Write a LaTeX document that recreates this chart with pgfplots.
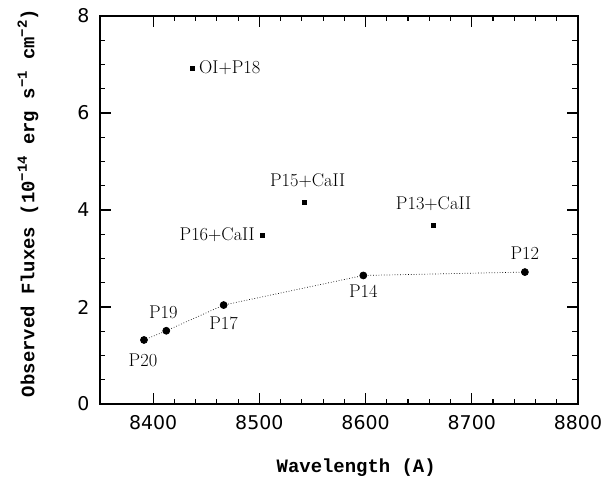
\documentclass[border=0pt]{standalone}
\usepackage{fontspec}
\usepackage{pgfplots}
\pgfplotsset{compat=1.18}
\newfontfamily\tickfont{DejaVu Sans}
\newfontfamily\labfont{Liberation Mono}
\newcommand{\sups}[1]{\raisebox{0.75ex}{\fontsize{14}{14}\selectfont #1}}
\begin{document}
\begin{tikzpicture}
\begin{axis}[
  at={(0,0)}, anchor=south west,
  scale only axis, width=478bp, height=388bp,
  xmin=8350, xmax=8800, ymin=0, ymax=8,
  xtick={8400,8500,...,8800}, ytick={0,2,...,8},
  minor x tick num=4, minor y tick num=3,
  major tick length=11bp, minor tick length=5.5bp,
  tick align=inside,
  xtick pos=both, ytick pos=both,
  axis line style={line width=1.2bp},
  every tick/.style={line width=1.1bp, black},
  every minor tick/.style={line width=1.1bp, black},
  /pgf/number format/assume math mode=true,
  /pgf/number format/1000 sep={},
  ticklabel style={font=\tickfont\fontsize{19}{20}\selectfont},
  xticklabel style={yshift=-8bp},
  yticklabel style={xshift=-7bp},
  xlabel={\labfont\bfseries\fontsize{19}{20}\selectfont Wavelength (A)},
  ylabel={\labfont\bfseries\fontsize{19}{20}\selectfont Observed Fluxes (10\sups{−14} erg s\sups{−1} cm\sups{−2})},
  xlabel style={at={(axis description cs:0.536,0)}, anchor=center, yshift=-64bp},
  ylabel style={at={(axis description cs:-0.1506,0.518)}, anchor=center},
  clip=false,
]
\addplot[black, line width=0.7bp, dotted, mark=*, mark size=3.5bp, mark options={solid, fill=black}] coordinates {
 (8391.4,1.32) (8412.4,1.51) (8466.4,2.04) (8597.9,2.65) (8750,2.72)
};
\addplot[only marks, black, mark=square*, mark size=2bp] coordinates {
 (8436.6,6.93) (8502.5,3.49) (8542.7,4.17) (8664,3.69)
};
\begin{scope}[every node/.style={font=\fontsize{18.5}{19}\selectfont, inner sep=0pt}]
\node[anchor=west, xshift=7bp] at (axis cs:8436.6,6.93) {OI+P18};
\node[anchor=east, xshift=-7bp] at (axis cs:8502.5,3.49) {P16+CaII};
\node[xshift=3bp, yshift=21bp] at (axis cs:8542.7,4.17) {P15+CaII};
\node[yshift=21bp] at (axis cs:8664,3.69) {P13+CaII};
\node[yshift=19bp] at (axis cs:8750,2.72) {P12};
\node[yshift=-16bp] at (axis cs:8597.9,2.65) {P14};
\node[yshift=-18bp] at (axis cs:8466.4,2.04) {P17};
\node[xshift=-3bp, yshift=18bp] at (axis cs:8412.4,1.51) {P19};
\node[xshift=-1bp, yshift=-20bp] at (axis cs:8391.4,1.32) {P20};
\end{scope}
\end{axis}
\pgfresetboundingbox
\path[use as bounding box] (-100bp,-77bp) rectangle (508bp,404bp);
\end{tikzpicture}
\end{document}
